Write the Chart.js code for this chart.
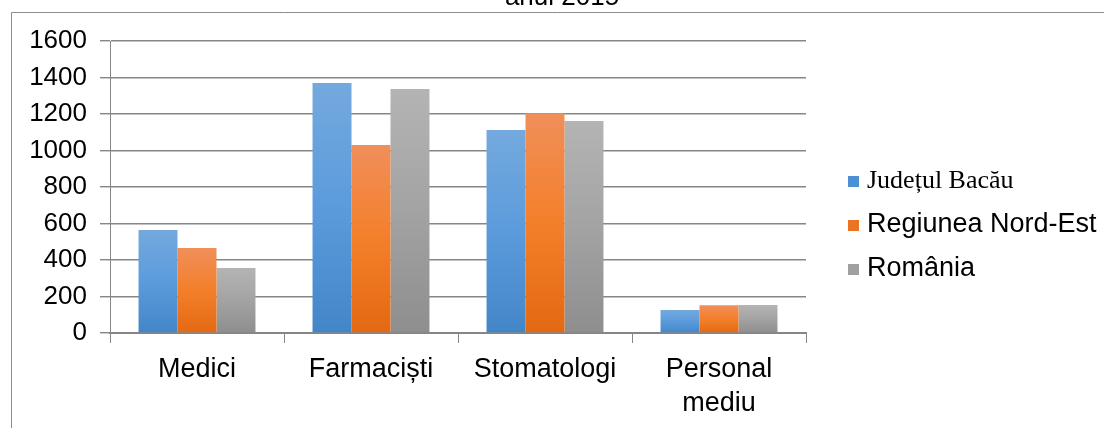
<!DOCTYPE html>
<html>
<head>
<meta charset="utf-8">
<script src="https://cdn.jsdelivr.net/npm/chart.js@4/dist/chart.umd.min.js"></script>
<style>
  html, body { margin: 0; padding: 0; background: #ffffff; }
  #wrap { width: 1104px; height: 428px; position: relative; }
</style>
</head>
<body>
<div id="wrap"><canvas id="c" width="1104" height="428"></canvas></div>
<script>
const categories = ['Medici', 'Farmaciști', 'Stomatologi', ['Personal', 'mediu']];
const seriesNames = ['Județul Bacău', 'Regiunea Nord-Est', 'România'];
const bacau = [565, 1370, 1112, 126];
const nordEst = [466, 1030, 1204, 152];
const romania = [356, 1337, 1162, 154];
const yTicks = [0, 200, 400, 600, 800, 1000, 1200, 1400, 1600];
const titleText = 'anul 2015';

const gradStops = [
  ['#74a9de', '#5b9bdc', '#4386c8'],
  ['#f08f5a', '#f47f2a', '#e36912'],
  ['#b4b4b4', '#a3a3a3', '#8e8e8e']
];
const legendSwatch = ['#4d8fd3', '#ea7424', '#a0a0a0'];
const legendFonts = ['26px "Liberation Serif", "DejaVu Serif", serif',
                     '27px "Liberation Sans", Arial, sans-serif',
                     '27px "Liberation Sans", Arial, sans-serif'];

function barGradient(si) {
  return function(ctx) {
    const chart = ctx.chart;
    const ys = chart.scales && chart.scales.y;
    if (!ys || ctx.raw === undefined || !chart.chartArea) return gradStops[si][1];
    const top = ys.getPixelForValue(ctx.raw);
    const bot = ys.getPixelForValue(0);
    if (!isFinite(top) || !isFinite(bot) || top === bot) return gradStops[si][1];
    const g = chart.ctx.createLinearGradient(0, top, 0, bot);
    g.addColorStop(0, gradStops[si][0]);
    g.addColorStop(0.5, gradStops[si][1]);
    g.addColorStop(1, gradStops[si][2]);
    return g;
  };
}

const framePlugin = {
  id: 'frame',
  beforeDraw(chart) {
    const c = chart.ctx;
    c.save();
    c.strokeStyle = '#8c8c8c';
    c.lineWidth = 1;
    c.beginPath();
    c.moveTo(11.5, 428);
    c.lineTo(11.5, 12.5);
    c.lineTo(1104, 12.5);
    c.stroke();
    c.fillStyle = '#000';
    c.font = '26px "Liberation Sans", Arial, sans-serif';
    c.textAlign = 'center';
    c.textBaseline = 'alphabetic';
    c.fillText(titleText, 562, 5);
    c.restore();
  },
  afterDraw(chart) {
    const c = chart.ctx;
    c.save();
    const ys = [181, 225, 269];
    chart.data.datasets.forEach((ds, i) => {
      c.fillStyle = legendSwatch[i];
      c.fillRect(848, ys[i] - 5, 11, 11);
      c.fillStyle = '#000';
      c.font = legendFonts[i];
      c.textAlign = 'left';
      c.textBaseline = 'middle';
      c.fillText(ds.label, 867, ys[i]);
    });
    c.restore();
  }
};

const ctx = document.getElementById('c').getContext('2d');
new Chart(ctx, {
  type: 'bar',
  data: {
    labels: categories,
    datasets: [
      { label: seriesNames[0], data: bacau, backgroundColor: barGradient(0) },
      { label: seriesNames[1], data: nordEst, backgroundColor: barGradient(1) },
      { label: seriesNames[2], data: romania, backgroundColor: barGradient(2) }
    ]
  },
  options: {
    responsive: false,
    animation: false,
    devicePixelRatio: 1,
    layout: { padding: { top: 41, right: 298, bottom: 0, left: 0 } },
    datasets: { bar: { categoryPercentage: 0.672, barPercentage: 1.0, borderWidth: 0 } },
    plugins: {
      legend: { display: false },
      title: { display: false },
      tooltip: { enabled: false }
    },
    scales: {
      x: {
        offset: true,
        grid: { display: true, drawOnChartArea: false, offset: true, color: '#868686', lineWidth: 1, tickLength: 10 },
        border: { display: true, color: '#868686', width: 2 },
        ticks: {
          color: '#000',
          font: { family: '"Liberation Sans", Arial, sans-serif', size: 27, lineHeight: 1.26 },
          padding: 10,
          maxRotation: 0,
          autoSkip: false
        },
        afterFit(scale) { scale.height = 95; }
      },
      y: {
        min: 0,
        max: 1600,
        afterBuildTicks(scale) { scale.ticks = yTicks.map(v => ({ value: v })); },
        grid: { color: '#868686', lineWidth: 1.4, tickLength: 10, drawTicks: true },
        border: { display: true, color: '#868686', width: 1 },
        ticks: {
          color: '#000',
          font: { family: '"Liberation Sans", Arial, sans-serif', size: 26 },
          padding: 13,
          callback: (v) => String(v)
        },
        afterFit(scale) { scale.width = 110; }
      }
    }
  },
  plugins: [framePlugin]
});
</script>
</body>
</html>
